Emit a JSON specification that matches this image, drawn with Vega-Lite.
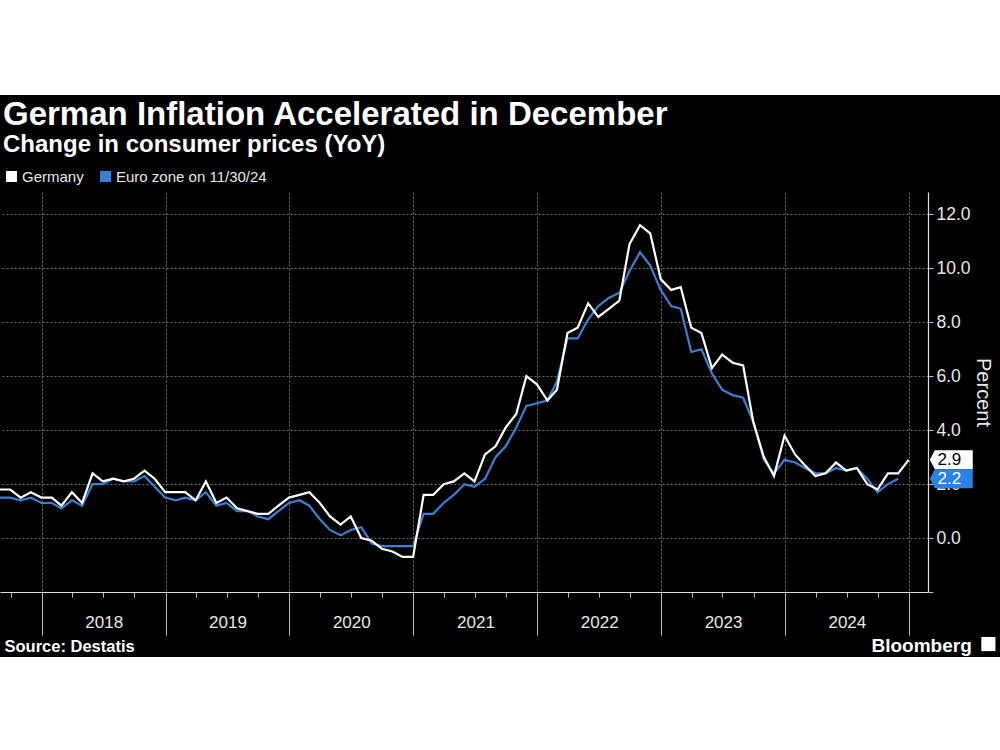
{
  "$schema": "https://vega.github.io/schema/vega-lite/v6.json",
  "width": 928,
  "height": 400,
  "autosize": {"type": "none"},
  "padding": {"left": 0, "top": 192, "right": 72, "bottom": 158},
  "background": "#000000",
  "config": {
    "font": "Liberation Sans",
    "view": {"stroke": null}
  },
  "title": {
    "text": "German Inflation Accelerated in December",
    "subtitle": "Change in consumer prices (YoY)",
    "anchor": "start",
    "frame": "group",
    "offset": -320,
    "dx": 3,
    "font": "Liberation Sans",
    "subtitleFont": "Liberation Sans",
    "fontSize": 33,
    "subtitleFontSize": 24,
    "fontWeight": "bold",
    "subtitleFontWeight": "bold",
    "color": "#ffffff",
    "subtitleColor": "#ffffff",
    "subtitlePadding": 1
  },
  "datasets": {
    "cpi": [
      {"date": "2017-08-31", "Germany": 1.8, "Euro zone on 11/30/24": 1.5},
      {"date": "2017-09-30", "Germany": 1.8, "Euro zone on 11/30/24": 1.5},
      {"date": "2017-10-31", "Germany": 1.5, "Euro zone on 11/30/24": 1.4},
      {"date": "2017-11-30", "Germany": 1.7, "Euro zone on 11/30/24": 1.5},
      {"date": "2017-12-31", "Germany": 1.5, "Euro zone on 11/30/24": 1.3},
      {"date": "2018-01-31", "Germany": 1.5, "Euro zone on 11/30/24": 1.3},
      {"date": "2018-02-28", "Germany": 1.2, "Euro zone on 11/30/24": 1.1},
      {"date": "2018-03-31", "Germany": 1.7, "Euro zone on 11/30/24": 1.4},
      {"date": "2018-04-30", "Germany": 1.3, "Euro zone on 11/30/24": 1.2},
      {"date": "2018-05-31", "Germany": 2.4, "Euro zone on 11/30/24": 2.0},
      {"date": "2018-06-30", "Germany": 2.1, "Euro zone on 11/30/24": 2.0},
      {"date": "2018-07-31", "Germany": 2.2, "Euro zone on 11/30/24": 2.2},
      {"date": "2018-08-31", "Germany": 2.1, "Euro zone on 11/30/24": 2.1},
      {"date": "2018-09-30", "Germany": 2.2, "Euro zone on 11/30/24": 2.1},
      {"date": "2018-10-31", "Germany": 2.5, "Euro zone on 11/30/24": 2.3},
      {"date": "2018-11-30", "Germany": 2.2, "Euro zone on 11/30/24": 1.9},
      {"date": "2018-12-31", "Germany": 1.7, "Euro zone on 11/30/24": 1.5},
      {"date": "2019-01-31", "Germany": 1.7, "Euro zone on 11/30/24": 1.4},
      {"date": "2019-02-28", "Germany": 1.7, "Euro zone on 11/30/24": 1.5},
      {"date": "2019-03-31", "Germany": 1.4, "Euro zone on 11/30/24": 1.4},
      {"date": "2019-04-30", "Germany": 2.1, "Euro zone on 11/30/24": 1.7},
      {"date": "2019-05-31", "Germany": 1.3, "Euro zone on 11/30/24": 1.2},
      {"date": "2019-06-30", "Germany": 1.5, "Euro zone on 11/30/24": 1.3},
      {"date": "2019-07-31", "Germany": 1.1, "Euro zone on 11/30/24": 1.0},
      {"date": "2019-08-31", "Germany": 1.0, "Euro zone on 11/30/24": 1.0},
      {"date": "2019-09-30", "Germany": 0.9, "Euro zone on 11/30/24": 0.8},
      {"date": "2019-10-31", "Germany": 0.9, "Euro zone on 11/30/24": 0.7},
      {"date": "2019-11-30", "Germany": 1.2, "Euro zone on 11/30/24": 1.0},
      {"date": "2019-12-31", "Germany": 1.5, "Euro zone on 11/30/24": 1.3},
      {"date": "2020-01-31", "Germany": 1.6, "Euro zone on 11/30/24": 1.4},
      {"date": "2020-02-29", "Germany": 1.7, "Euro zone on 11/30/24": 1.2},
      {"date": "2020-03-31", "Germany": 1.3, "Euro zone on 11/30/24": 0.7},
      {"date": "2020-04-30", "Germany": 0.8, "Euro zone on 11/30/24": 0.3},
      {"date": "2020-05-31", "Germany": 0.5, "Euro zone on 11/30/24": 0.1},
      {"date": "2020-06-30", "Germany": 0.8, "Euro zone on 11/30/24": 0.3},
      {"date": "2020-07-31", "Germany": 0.0, "Euro zone on 11/30/24": 0.4},
      {"date": "2020-08-31", "Germany": -0.1, "Euro zone on 11/30/24": -0.2},
      {"date": "2020-09-30", "Germany": -0.4, "Euro zone on 11/30/24": -0.3},
      {"date": "2020-10-31", "Germany": -0.5, "Euro zone on 11/30/24": -0.3},
      {"date": "2020-11-30", "Germany": -0.7, "Euro zone on 11/30/24": -0.3},
      {"date": "2020-12-31", "Germany": -0.7, "Euro zone on 11/30/24": -0.3},
      {"date": "2021-01-31", "Germany": 1.6, "Euro zone on 11/30/24": 0.9},
      {"date": "2021-02-28", "Germany": 1.6, "Euro zone on 11/30/24": 0.9},
      {"date": "2021-03-31", "Germany": 2.0, "Euro zone on 11/30/24": 1.3},
      {"date": "2021-04-30", "Germany": 2.1, "Euro zone on 11/30/24": 1.6},
      {"date": "2021-05-31", "Germany": 2.4, "Euro zone on 11/30/24": 2.0},
      {"date": "2021-06-30", "Germany": 2.1, "Euro zone on 11/30/24": 1.9},
      {"date": "2021-07-31", "Germany": 3.1, "Euro zone on 11/30/24": 2.2},
      {"date": "2021-08-31", "Germany": 3.4, "Euro zone on 11/30/24": 3.0},
      {"date": "2021-09-30", "Germany": 4.1, "Euro zone on 11/30/24": 3.4},
      {"date": "2021-10-31", "Germany": 4.6, "Euro zone on 11/30/24": 4.1},
      {"date": "2021-11-30", "Germany": 6.0, "Euro zone on 11/30/24": 4.9},
      {"date": "2021-12-31", "Germany": 5.7, "Euro zone on 11/30/24": 5.0},
      {"date": "2022-01-31", "Germany": 5.1, "Euro zone on 11/30/24": 5.1},
      {"date": "2022-02-28", "Germany": 5.5, "Euro zone on 11/30/24": 5.8},
      {"date": "2022-03-31", "Germany": 7.6, "Euro zone on 11/30/24": 7.4},
      {"date": "2022-04-30", "Germany": 7.8, "Euro zone on 11/30/24": 7.4},
      {"date": "2022-05-31", "Germany": 8.7, "Euro zone on 11/30/24": 8.1},
      {"date": "2022-06-30", "Germany": 8.2, "Euro zone on 11/30/24": 8.6},
      {"date": "2022-07-31", "Germany": 8.5, "Euro zone on 11/30/24": 8.9},
      {"date": "2022-08-31", "Germany": 8.8, "Euro zone on 11/30/24": 9.1},
      {"date": "2022-09-30", "Germany": 10.9, "Euro zone on 11/30/24": 9.9},
      {"date": "2022-10-31", "Germany": 11.6, "Euro zone on 11/30/24": 10.6},
      {"date": "2022-11-30", "Germany": 11.3, "Euro zone on 11/30/24": 10.1},
      {"date": "2022-12-31", "Germany": 9.6, "Euro zone on 11/30/24": 9.2},
      {"date": "2023-01-31", "Germany": 9.2, "Euro zone on 11/30/24": 8.6},
      {"date": "2023-02-28", "Germany": 9.3, "Euro zone on 11/30/24": 8.5},
      {"date": "2023-03-31", "Germany": 7.8, "Euro zone on 11/30/24": 6.9},
      {"date": "2023-04-30", "Germany": 7.6, "Euro zone on 11/30/24": 7.0},
      {"date": "2023-05-31", "Germany": 6.3, "Euro zone on 11/30/24": 6.1},
      {"date": "2023-06-30", "Germany": 6.8, "Euro zone on 11/30/24": 5.5},
      {"date": "2023-07-31", "Germany": 6.5, "Euro zone on 11/30/24": 5.3},
      {"date": "2023-08-31", "Germany": 6.4, "Euro zone on 11/30/24": 5.2},
      {"date": "2023-09-30", "Germany": 4.3, "Euro zone on 11/30/24": 4.3},
      {"date": "2023-10-31", "Germany": 3.0, "Euro zone on 11/30/24": 2.9},
      {"date": "2023-11-30", "Germany": 2.3, "Euro zone on 11/30/24": 2.4},
      {"date": "2023-12-31", "Germany": 3.8, "Euro zone on 11/30/24": 2.9},
      {"date": "2024-01-31", "Germany": 3.1, "Euro zone on 11/30/24": 2.8},
      {"date": "2024-02-29", "Germany": 2.7, "Euro zone on 11/30/24": 2.6},
      {"date": "2024-03-31", "Germany": 2.3, "Euro zone on 11/30/24": 2.4},
      {"date": "2024-04-30", "Germany": 2.4, "Euro zone on 11/30/24": 2.4},
      {"date": "2024-05-31", "Germany": 2.8, "Euro zone on 11/30/24": 2.6},
      {"date": "2024-06-30", "Germany": 2.5, "Euro zone on 11/30/24": 2.5},
      {"date": "2024-07-31", "Germany": 2.6, "Euro zone on 11/30/24": 2.6},
      {"date": "2024-08-31", "Germany": 2.0, "Euro zone on 11/30/24": 2.2},
      {"date": "2024-09-30", "Germany": 1.8, "Euro zone on 11/30/24": 1.7},
      {"date": "2024-10-31", "Germany": 2.4, "Euro zone on 11/30/24": 2.0},
      {"date": "2024-11-30", "Germany": 2.4, "Euro zone on 11/30/24": 2.2},
      {"date": "2024-12-31", "Germany": 2.9, "Euro zone on 11/30/24": null}
    ],
    "latest": [
      {"series": "Germany", "value": 2.9},
      {"series": "Euro zone on 11/30/24", "value": 2.2}
    ],
    "brand": [
      {"label": "Bloomberg"}
    ]
  },
  "layer": [
    {
      "data": {"values": [{}]},
      "mark": {"type": "rect", "fill": "#ffffff"},
      "encoding": {
        "x": {"datum": {"year": 2016, "month": 1, "date": 1, "utc": true}, "type": "temporal"},
        "x2": {"datum": {"year": 2026, "month": 6, "date": 1, "utc": true}},
        "y": {"datum": 16.43, "type": "quantitative"},
        "y2": {"datum": 26}
      }
    },
    {
      "data": {"values": [{}]},
      "mark": {"type": "rect", "fill": "#ffffff"},
      "encoding": {
        "x": {"datum": {"year": 2016, "month": 1, "date": 1, "utc": true}, "type": "temporal"},
        "x2": {"datum": {"year": 2026, "month": 6, "date": 1, "utc": true}},
        "y": {"datum": -4.41, "type": "quantitative"},
        "y2": {"datum": -12}
      }
    },
    {
      "data": {"name": "cpi"},
      "transform": [
        {"fold": ["Germany", "Euro zone on 11/30/24"], "as": ["series", "value"]},
        {"filter": "datum.series == 'Euro zone on 11/30/24' && isValid(datum.value)"}
      ],
      "mark": {"type": "line", "strokeWidth": 2.2},
      "encoding": {
        "x": {
          "field": "date",
          "type": "temporal",
          "scale": {
            "type": "utc",
            "domain": [
              {"year": 2017, "month": 8, "date": 31, "utc": true},
              {"year": 2025, "month": 2, "date": 26, "utc": true}
            ]
          },
          "axis": {
            "tickCount": {"interval": "month", "step": 3},
            "labelExpr": "utcmonth(datum.value) == 0 && utcyear(datum.value) < 2025 ? utcFormat(datum.value, '%Y') : ''",
            "labelOffset": 62,
            "labelAlign": "center",
            "labelFlush": false,
            "labelOverlap": false,
            "labelBound": false,
            "labelPadding": -21,
            "labelFontSize": 17,
            "labelColor": "#e8e8e8",
            "labelFont": "Liberation Sans",
            "tickSize": {"condition": {"test": "utcmonth(datum.value) == 0", "value": 43}, "value": 5},
            "tickColor": "#bbbbbb",
            "tickWidth": 1,
            "domainColor": "#dddddd",
            "domainWidth": 1.2,
            "grid": true,
            "gridOpacity": {"condition": {"test": "utcmonth(datum.value) == 0", "value": 1}, "value": 0},
            "gridColor": "#6e6e6e",
            "gridDash": [2, 2],
            "gridWidth": 1,
            "title": "Source: Destatis",
            "titleAnchor": "start",
            "titleAlign": "left",
            "titleBaseline": "alphabetic",
            "titleX": 4,
            "titleY": 59,
            "titleFont": "Liberation Sans",
            "titleFontSize": 16.5,
            "titleFontWeight": "bold",
            "titleColor": "#ffffff"
          }
        },
        "y": {
          "field": "value",
          "type": "quantitative",
          "scale": {"domain": [-2, 12.83], "nice": false, "zero": false},
          "axis": {
            "orient": "right",
            "values": [-2, -1, 0, 1, 2, 3, 4, 5, 6, 7, 8, 9, 10, 11, 12],
            "labelExpr": "datum.value % 2 == 0 && datum.value >= 0 ? format(datum.value, '.1f') : ''",
            "labelFontSize": 17.5,
            "labelColor": "#e8e8e8",
            "labelFont": "Liberation Sans",
            "labelPadding": 3,
            "labelOverlap": false,
            "labelFlush": false,
            "tickSize": 5,
            "tickColor": "#bbbbbb",
            "domainColor": "#dddddd",
            "domainWidth": 1.2,
            "grid": true,
            "gridOpacity": {"condition": {"test": "datum.value % 2 == 0", "value": 1}, "value": 0},
            "gridColor": "#6e6e6e",
            "gridDash": [2, 2],
            "gridWidth": 1,
            "title": "Percent",
            "titleAngle": 90,
            "titleFont": "Liberation Sans",
            "titleFontSize": 20,
            "titleFontWeight": "normal",
            "titleColor": "#e8e8e8",
            "titlePadding": 2
          }
        },
        "color": {
          "field": "series",
          "type": "nominal",
          "scale": {"domain": ["Germany", "Euro zone on 11/30/24"], "range": ["#ffffff", "#3a7fd6"]},
          "legend": {
            "orient": "none",
            "legendX": 4,
            "legendY": -23,
            "direction": "horizontal",
            "title": null,
            "symbolType": "square",
            "symbolSize": 9,
            "symbolStrokeWidth": 8,
            "symbolOpacity": 1,
            "labelFont": "Liberation Sans",
            "labelFontSize": 15,
            "labelLimit": 400,
            "labelColor": "#e8e8e8",
            "labelOffset": 3,
            "columnPadding": 4,
            "padding": 0
          }
        }
      }
    },
    {
      "data": {"name": "cpi"},
      "transform": [
        {"fold": ["Germany", "Euro zone on 11/30/24"], "as": ["series", "value"]},
        {"filter": "datum.series == 'Germany' && isValid(datum.value)"}
      ],
      "mark": {"type": "line", "strokeWidth": 2.2},
      "encoding": {
        "x": {"field": "date", "type": "temporal"},
        "y": {"field": "value", "type": "quantitative"},
        "color": {"field": "series", "type": "nominal"}
      }
    },
    {
      "data": {"name": "latest"},
      "mark": {
        "type": "point",
        "shape": "M-1.26,0 L-1,-0.5 L1,-0.5 L1,0.5 L-1,0.5 Z",
        "size": 1444,
        "filled": true,
        "opacity": 1,
        "strokeWidth": 0
      },
      "encoding": {
        "x": {"datum": {"year": 2025, "month": 5, "date": 13, "utc": true}, "type": "temporal"},
        "y": {"field": "value", "type": "quantitative"},
        "fill": {"condition": {"test": "datum.series == 'Germany'", "value": "#ffffff"}, "value": "#2a82e4"}
      }
    },
    {
      "data": {"name": "latest"},
      "mark": {"type": "text", "font": "Liberation Sans", "fontSize": 17, "align": "center", "baseline": "middle"},
      "encoding": {
        "x": {"datum": {"year": 2025, "month": 4, "date": 30, "utc": true}, "type": "temporal"},
        "y": {"field": "value", "type": "quantitative"},
        "text": {"field": "value", "type": "quantitative", "format": ".1f"},
        "color": {"condition": {"test": "datum.series == 'Germany'", "value": "#000000"}, "value": "#ffffff"}
      }
    },
    {
      "data": {"name": "brand"},
      "mark": {"type": "text", "font": "Liberation Sans", "fontSize": 19, "fontWeight": "bold", "align": "right", "baseline": "alphabetic", "color": "#ffffff"},
      "encoding": {
        "x": {"datum": {"year": 2025, "month": 7, "date": 5, "utc": true}, "type": "temporal"},
        "y": {"datum": -4.22, "type": "quantitative"},
        "text": {"field": "label", "type": "nominal"}
      }
    },
    {
      "data": {"name": "brand"},
      "mark": {"type": "point", "shape": "square", "size": 200, "filled": true, "color": "#ffffff", "opacity": 1},
      "encoding": {
        "x": {"datum": {"year": 2025, "month": 8, "date": 23, "utc": true}, "type": "temporal"},
        "y": {"datum": -3.93, "type": "quantitative"}
      }
    }
  ]
}
